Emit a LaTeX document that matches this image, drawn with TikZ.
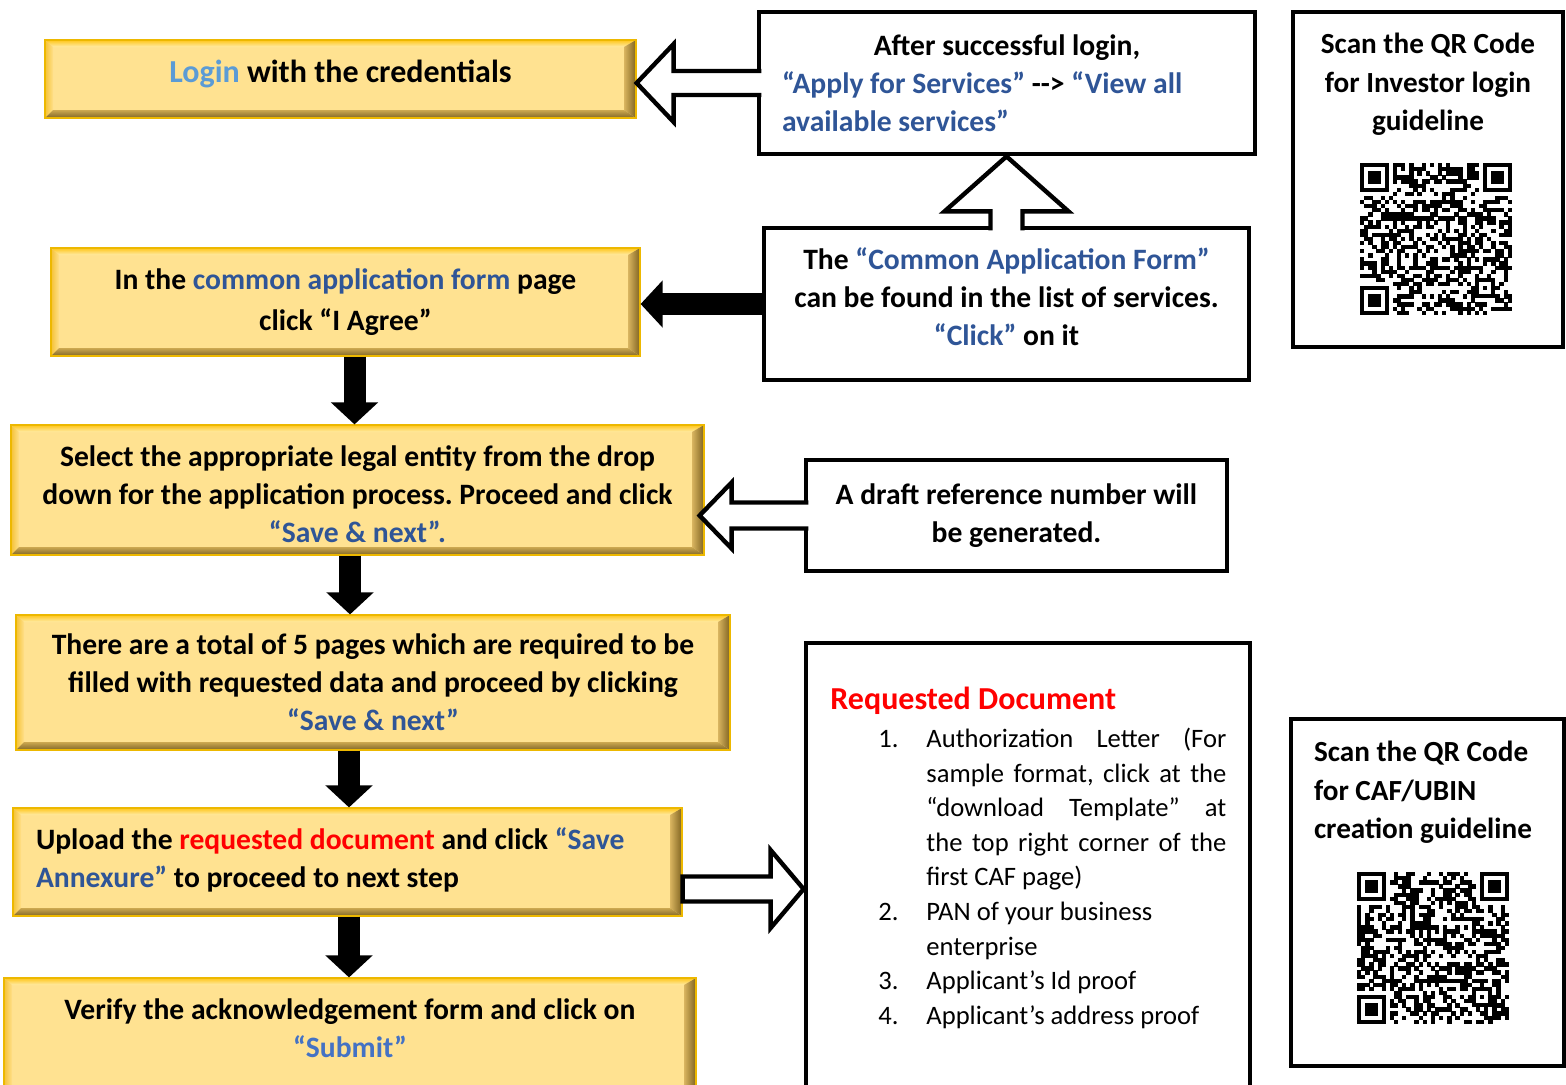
\documentclass[tikz,border=0pt]{standalone}
\usepackage{fontspec}
\setmainfont{Carlito}
\frenchspacing
\usetikzlibrary{arrows.meta,calc,positioning}

\definecolor{stepfill}{HTML}{FFE291}
\definecolor{stepedge}{HTML}{EDB800}
\definecolor{bevtopa}{HTML}{FFC61A}
\definecolor{bevtopb}{HTML}{FFEBA8}
\definecolor{bevlefta}{HTML}{F5C236}
\definecolor{bevleftb}{HTML}{FFE08A}
\definecolor{bevrighta}{HTML}{D9B560}
\definecolor{bevrightb}{HTML}{7F6320}
\definecolor{bevbota}{HTML}{CCA850}
\definecolor{bevbotb}{HTML}{806628}
\definecolor{loginblue}{HTML}{5B9BD5}
\definecolor{formblue}{HTML}{2F5597}
\definecolor{submitblue}{HTML}{4472C4}
\definecolor{docred}{HTML}{FF0000}

\begin{document}
\begin{tikzpicture}[x=0.5pt,y=-0.5pt,
    stepbox/.style={draw=stepedge,line width=0.6pt,fill=stepfill,align=center,inner sep=0pt,
      font=\bfseries\fontsize{14.8}{19}\selectfont,
      path picture={
        \coordinate (bnw) at (path picture bounding box.north west);
        \coordinate (bne) at (path picture bounding box.north east);
        \coordinate (bsw) at (path picture bounding box.south west);
        \coordinate (bse) at (path picture bounding box.south east);
        \shade[top color=bevtopa,bottom color=bevtopb] (bnw) -- (bne) -- ($(bne)+(-12,7)$) -- ($(bnw)+(8,7)$) -- cycle;
        \shade[left color=bevlefta,right color=bevleftb] (bnw) -- ($(bnw)+(8,7)$) -- ($(bsw)+(8,-8)$) -- (bsw) -- cycle;
        \shade[left color=bevrighta,right color=bevrightb] (bne) -- ($(bne)+(-12,7)$) -- ($(bse)+(-12,-8)$) -- (bse) -- cycle;
        \shade[top color=bevbota,bottom color=bevbotb] (bsw) -- ($(bsw)+(8,-8)$) -- ($(bse)+(-12,-8)$) -- (bse) -- cycle;
      }},
    notebox/.style={draw,line width=2.4pt,fill=white,align=center,inner sep=0pt,
      font=\bfseries\fontsize{14.8}{19}\selectfont},
    qrtext/.style={inner sep=0pt,font=\bfseries\fontsize{14.6}{19.3}\selectfont},
    flow/.style={line width=11pt,-{Triangle[width=23pt,length=11pt]}},
    hollow/.style={draw,fill=white,line width=2.2pt,line join=miter},
    qrcode/.pic={
      \foreach \fx/\fy in {0/0,123/0,0/123}{
        \fill[black] (\fx,\fy) rectangle ++(28.7,28.7);
        \fill[white] (\fx+4.1,\fy+4.1) rectangle ++(20.5,20.5);
        \fill[black] (\fx+8.2,\fy+8.2) rectangle ++(12.3,12.3);
      }
      \fill[black] (114.8,114.8) rectangle ++(20.5,20.5);
      \fill[white] (118.9,118.9) rectangle ++(12.3,12.3);
      \fill[black] (123,123) rectangle ++(4.1,4.1);
      \foreach \i in {0,...,36}{
        \foreach \j in {0,...,36}{
          \pgfmathtruncatemacro{\qrskip}{((\i<8)&&(\j<8))||((\i>28)&&(\j<8))||((\i<8)&&(\j>28))||((\i>27)&&(\i<33)&&(\j>27)&&(\j<33))}
          \ifnum\qrskip=0
            \pgfmathtruncatemacro{\qrbit}{mod(int(abs(sin(\i*127.1+\j*311.7+#1)*9973)),2)}
            \ifnum\qrbit=1 \fill[black] (4.1*\i,4.1*\j) rectangle ++(4.3,4.3);\fi
          \fi
        }
      }
    }]
  \useasboundingbox (0,0) rectangle (1566,1084);
  \clip (0,0) rectangle (1566,1084);

  % steps on the left
  \node[stepbox,align=flush center,text width=285pt,minimum width=295.5pt,minimum height=39pt,
        font=\bfseries\fontsize{16}{19}\selectfont] (login) at (340.5,79)
    {\textcolor{loginblue}{Login} with the credentials\par\kern5pt};
  \node[stepbox,minimum width=294.5pt,minimum height=54pt] (caf) at (345.5,302)
    {In the \textcolor{formblue}{common application form} page\\[1.5pt]click “I Agree”};
  \node[stepbox,align=flush center,text width=340pt,minimum width=346.5pt,minimum height=65pt] (entity) at (357.5,490)
    {Select the appropriate legal entity from the drop\\down for the application process. Proceed and click\\\textcolor{formblue}{“Save \& next”.}\par\kern-4pt};
  \node[stepbox,minimum width=357pt,minimum height=67.5pt] (pages) at (373,682.5)
    {There are a total of 5 pages which are required to be\\filled with requested data and proceed by clicking\\\textcolor{formblue}{“Save \& next”}};
  \node[stepbox,align=flush left,text width=311.5pt,minimum width=334.5pt,minimum height=54pt] (upload) at (347.5,862)
    {Upload the \textcolor{docred}{requested document} and click \textcolor{formblue}{“Save}\\\textcolor{formblue}{Annexure”} to proceed to next step\par\kern2pt};
  \node[stepbox,align=flush center,text width=330pt,minimum width=346pt,minimum height=66pt] (verify) at (350,1044)
    {Verify the acknowledgement form and click on\\\textcolor{submitblue}{“Submit”}\par\kern16pt};

  % notes on the right
  \node[notebox,align=flush left,text width=225pt,minimum width=248pt,minimum height=71pt] (after) at (1007,83)
    {\makebox[225pt]{After successful login,}\\\textcolor{formblue}{“Apply for Services”} -{}-{}> \textcolor{formblue}{“View all}\\\textcolor{formblue}{available services\symbol{"22}}};
  \node[notebox,align=flush center,text width=230pt,minimum width=242.5pt,minimum height=76pt] (found) at (1006.5,304)
    {The \textcolor{formblue}{“Common Application Form”}\\can be found in the list of services.\\\textcolor{formblue}{“Click”} on it\par\kern7pt};
  \node[notebox,minimum width=210.5pt,minimum height=55.5pt] (draft) at (1016.5,515.5)
    {A draft reference number will\\be generated.};
  \node[notebox,minimum width=222pt,minimum height=233.5pt] (reqdoc) at (1028,876.5) {};
  \node[anchor=north west,text width=198pt,inner sep=0pt,align=justify,
        font=\fontsize{13.3}{17.3}\selectfont] (reqlist) at (830,687)
    {{\bfseries\color{docred}\fontsize{16}{20}\selectfont Requested Document\par}
     \vspace{1.5pt}
     \hangindent=48pt\hangafter=1\noindent\hspace*{24pt}\makebox[24pt][l]{1.}Authorization Letter (For\linebreak
     sample format, click at the\linebreak “download Template” at\linebreak the top right corner of the\linebreak first CAF page)\par
     \hangindent=48pt\hangafter=1\noindent\hspace*{24pt}\makebox[24pt][l]{2.}PAN of your business\\enterprise\par
     \hangindent=48pt\hangafter=1\noindent\hspace*{24pt}\makebox[24pt][l]{3.}Applicant’s Id proof\par
     \hangindent=48pt\hangafter=1\noindent\hspace*{24pt}\makebox[24pt][l]{4.}Applicant’s address proof\par};

  % QR code panels
  \node[notebox,minimum width=135pt,minimum height=167.5pt] (qrone) at (1428,179.5) {};
  \node[qrtext,align=center,below=11.5pt of qrone.north] (qronetxt)
    {Scan the QR Code\\for Investor login\\guideline};
  \node[notebox,minimum width=136.5pt,minimum height=173.5pt] (qrtwo) at (1427.5,892.5) {};
  \node[qrtext,align=left,anchor=north west] (qrtwotxt) at ([shift={(25,24)}]qrtwo.north west)
    {Scan the QR Code\\for CAF/UBIN\\creation guideline};
  \pic at (1360,163) {qrcode=17};
  \pic at (1357,872) {qrcode=41};

  % solid arrows
  \draw[flow] ([xshift=4.5pt]caf.south) -- ([xshift=4.5pt]caf.south |- entity.north);
  \draw[flow] ([xshift=-3.75pt]entity.south) -- ([xshift=-3.75pt]entity.south |- pages.north);
  \draw[flow] ([xshift=-12pt]pages.south) -- ([xshift=-12pt]pages.south |- upload.north);
  \draw[flow] ([xshift=0.75pt]upload.south) -- ([xshift=0.75pt]upload.south |- verify.north);
  \draw[flow] (found.west) -- (caf.east |- found.west);

  % hollow arrows
  \draw[hollow] ($(after.west)+(4.8,-12)$) -- ($(login.east |- after.west)+(37,-12)$) -- ++(0,-27)
    -- (login.east |- after.west) -- ++(37,39) -- ++(0,-27) -- ($(after.west)+(4.8,12)$);
  \draw[hollow] ($(found.north)+(-16,4.8)$) -- ($(found.north |- after.south)+(-16,55)$) -- ++(-46,0)
    -- (found.north |- after.south) -- ++(62,55) -- ++(-46,0) -- ($(found.north)+(16,4.8)$);
  \draw[hollow] ($(draft.west)+(4.8,-13)$) -- ($(entity.east |- draft.west)+(27,-13)$) -- ++(0,-20)
    -- ($(entity.east |- draft.west)+(-5,0)$) -- ++(32,33) -- ++(0,-20) -- ($(draft.west)+(4.8,13)$);
  \draw[hollow] ($(upload.east)+(0,14.5)$) -- ($(reqdoc.west |- upload.east)+(-33,14.5)$) -- ++(0,-26.5)
    -- ($(reqdoc.west |- upload.east)+(0,27)$) -- ++(-33,39) -- ++(0,-26.5) -- ($(upload.east)+(0,39.5)$) -- cycle;
\end{tikzpicture}
\end{document}
